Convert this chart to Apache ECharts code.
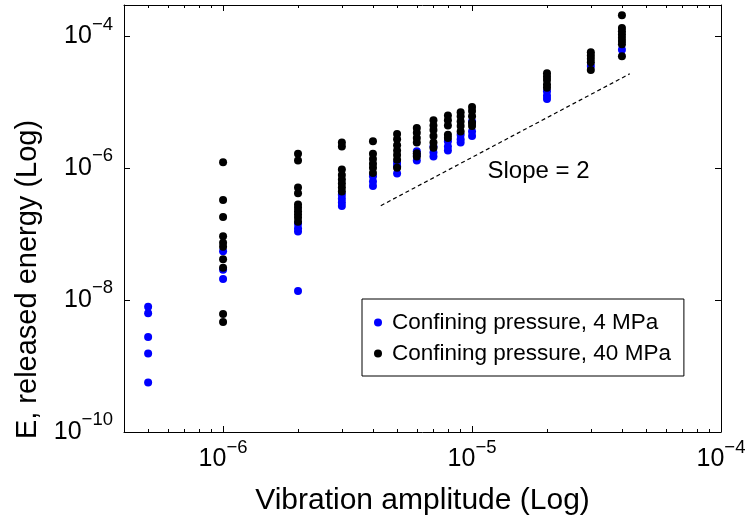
<!DOCTYPE html>
<html>
<head>
<meta charset="utf-8">
<script src="https://cdn.jsdelivr.net/npm/echarts@6/dist/echarts.min.js"></script>
<style>
html, body { margin: 0; padding: 0; background: #fff; }
#chart { width: 747px; height: 523px; }
</style>
</head>
<body>
<div id="chart"></div>
<script>
// amplitudes of each column, and log10(E) of the points read in that column
const amp4 = [5e-7, 1e-6, 2e-6, 3e-6, 4e-6, 5e-6, 6e-6, 7e-6, 8e-6, 9e-6, 1e-5, 2e-5, 3e-5, 4e-5];
const logE4 = [
  [-8.10, -8.20, -8.56, -8.81, -9.25],
  [-7.26, -7.54, -7.68],
  [-6.84, -6.91, -6.96, -7.86],
  [-6.40, -6.46, -6.52, -6.57],
  [-6.12, -6.20, -6.27],
  [-5.92, -5.97, -6.08],
  [-5.74, -5.80, -5.88],
  [-5.67, -5.76, -5.82],
  [-5.59, -5.67, -5.73],
  [-5.49, -5.56, -5.61],
  [-5.29, -5.44, -5.51],
  [-4.83, -4.90, -4.95],
  [-4.45],
  [-4.20]
];

const amp40 = [1e-6, 2e-6, 3e-6, 4e-6, 5e-6, 6e-6, 7e-6, 8e-6, 9e-6, 1e-5, 2e-5, 3e-5, 4e-5];
const logE40 = [
  [-5.91, -6.48, -6.74, -7.03, -7.13, -7.19, -7.38, -7.51, -8.21, -8.33],
  [-5.78, -5.88, -6.29, -6.38, -6.55, -6.60, -6.65, -6.70, -6.75, -6.81],
  [-5.61, -5.67, -6.02, -6.10, -6.17, -6.23, -6.29, -6.35],
  [-5.59, -5.78, -5.86, -5.93, -5.99, -6.07],
  [-5.48, -5.56, -5.65, -5.73, -5.80, -5.87, -5.99],
  [-5.39, -5.46, -5.54, -5.61, -5.77, -5.82],
  [-5.27, -5.35, -5.42, -5.51, -5.61, -5.69],
  [-5.20, -5.27, -5.35, -5.49, -5.54],
  [-5.15, -5.21, -5.29, -5.36, -5.44],
  [-5.07, -5.13, -5.21, -5.31, -5.36],
  [-4.56, -4.61, -4.66, -4.73, -4.78],
  [-4.24, -4.29, -4.34, -4.39, -4.51],
  [-3.68, -3.87, -3.92, -3.97, -4.02, -4.07, -4.12, -4.30]
];

// slope = 2 guide line
const slopeAmp = [4.3e-6, 4.3e-5];
const slopeLogE = [-6.567, -4.567];

const xMajor = [-6, -5, -4];           // 10^-6 .. 10^-4
const minorMult = [2, 3, 4, 5, 6, 7, 8, 9];
const xRange = [4e-7, 1e-4];
const yRange = [1e-10, 3e-4];

const names = ['Confining pressure, 4 MPa', 'Confining pressure, 40 MPa'];
const FONT = 'Liberation Sans, Arial, Helvetica, sans-serif';

function toPoints(amps, logs) {
  const out = [];
  amps.forEach((a, i) => {
    logs[i].forEach(e => out.push([Math.log10(a), e]));
  });
  return out;
}

const xMin = Math.log10(xRange[0]);
const xMax = Math.log10(xRange[1]);
const yMin = Math.log10(yRange[0]);
const yMax = Math.log10(yRange[1]);

const xMinor = [];
[-7, -6, -5].forEach(n => {
  minorMult.forEach(k => {
    const v = Math.log10(k) + n;
    if (v >= xMin && v <= xMax) xMinor.push(v);
  });
});

const rich = {
  b: { fontSize: 25, fontFamily: FONT, color: '#000', verticalAlign: 'middle', lineHeight: 25 },
  s: { fontSize: 18.5, fontFamily: FONT, color: '#000', verticalAlign: 'middle', lineHeight: 18, padding: [0, 0, 24, 0] }
};
function powLabel(v) {
  return '{b|10}{s|\u2212' + Math.round(-v) + '}';
}

const lineStyle = { color: '#000', width: 1 };
const gridPos = { left: 124, right: 26, top: 5, bottom: 91, outerBoundsMode: 'none' };

const chart = echarts.init(document.getElementById('chart'), null, { renderer: 'canvas' });

chart.setOption({
  animation: false,
  backgroundColor: '#fff',
  grid: [Object.assign({}, gridPos), Object.assign({}, gridPos)],
  xAxis: [
    {
      gridIndex: 0, type: 'value', position: 'bottom', min: xMin, max: xMax,
      name: 'Vibration amplitude (Log)', nameLocation: 'middle', nameGap: 51,
      nameTextStyle: { fontFamily: FONT, fontSize: 30, color: '#000' },
      axisLine: { lineStyle: lineStyle },
      axisTick: { inside: true, length: 6, customValues: xMajor, lineStyle: lineStyle },
      axisLabel: { customValues: xMajor, formatter: powLabel, rich: rich, margin: 15 },
      splitLine: { show: false }
    },
    {
      gridIndex: 0, type: 'value', position: 'top', min: xMin, max: xMax,
      axisLine: { lineStyle: lineStyle },
      axisTick: { inside: true, length: 6, customValues: xMajor, lineStyle: lineStyle },
      axisLabel: { show: false },
      splitLine: { show: false }
    },
    {
      gridIndex: 1, type: 'value', position: 'bottom', min: xMin, max: xMax,
      axisLine: { show: false },
      axisTick: { inside: true, length: 3, customValues: xMinor, lineStyle: lineStyle },
      axisLabel: { show: false },
      splitLine: { show: false }
    },
    {
      gridIndex: 1, type: 'value', position: 'top', min: xMin, max: xMax,
      axisLine: { show: false },
      axisTick: { inside: true, length: 3, customValues: xMinor, lineStyle: lineStyle },
      axisLabel: { show: false },
      splitLine: { show: false }
    }
  ],
  yAxis: [
    {
      gridIndex: 0, type: 'value', position: 'left', min: yMin, max: yMax, interval: 2,
      name: 'E, released energy (Log)', nameLocation: 'middle', nameGap: 80, nameRotate: 90,
      nameTextStyle: { fontFamily: FONT, fontSize: 29, color: '#000', padding: [0, 122, 0, 0] },
      axisLine: { lineStyle: lineStyle },
      axisTick: { inside: true, length: 6, lineStyle: lineStyle },
      axisLabel: { formatter: powLabel, rich: rich, margin: 11, showMaxLabel: false },
      splitLine: { show: false }
    },
    {
      gridIndex: 0, type: 'value', position: 'right', min: yMin, max: yMax, interval: 2,
      axisLine: { lineStyle: lineStyle },
      axisTick: { inside: true, length: 6, lineStyle: lineStyle },
      axisLabel: { show: false },
      splitLine: { show: false }
    },
    {
      gridIndex: 1, type: 'value', min: yMin, max: yMax, interval: 2,
      axisLine: { show: false }, axisTick: { show: false }, axisLabel: { show: false },
      splitLine: { show: false }
    }
  ],
  legend: {
    data: names,
    orient: 'vertical',
    left: 362, top: 299,
    padding: [12, 13, 11, 12],
    itemGap: 8,
    itemWidth: 8, itemHeight: 8,
    icon: 'circle',
    borderColor: '#000', borderWidth: 1,
    backgroundColor: '#fff',
    textStyle: { fontFamily: FONT, fontSize: 22.5, color: '#000', lineHeight: 22, padding: [0, 0, 0, 5] }
  },
  series: [
    {
      name: names[0], type: 'scatter', xAxisIndex: 0, yAxisIndex: 0,
      symbol: 'circle', symbolSize: 8,
      itemStyle: { color: '#0000ff', opacity: 1 },
      data: toPoints(amp4, logE4)
    },
    {
      name: names[1], type: 'scatter', xAxisIndex: 0, yAxisIndex: 0,
      symbol: 'circle', symbolSize: 8,
      itemStyle: { color: '#000000', opacity: 1 },
      data: toPoints(amp40, logE40)
    },
    {
      name: 'slope', type: 'line', xAxisIndex: 0, yAxisIndex: 0,
      symbol: 'none', silent: true,
      lineStyle: { color: '#000', width: 1.2, type: [4, 3] },
      data: slopeAmp.map((a, i) => [Math.log10(a), slopeLogE[i]]),
      markPoint: {
        symbol: 'circle', symbolSize: 0,
        label: { show: true, formatter: 'Slope = 2', fontFamily: FONT, fontSize: 24, color: '#000', position: 'inside' },
        data: [{ coord: [Math.log10(1.85e-5), -6.05] }]
      }
    }
  ]
});
</script>
</body>
</html>
